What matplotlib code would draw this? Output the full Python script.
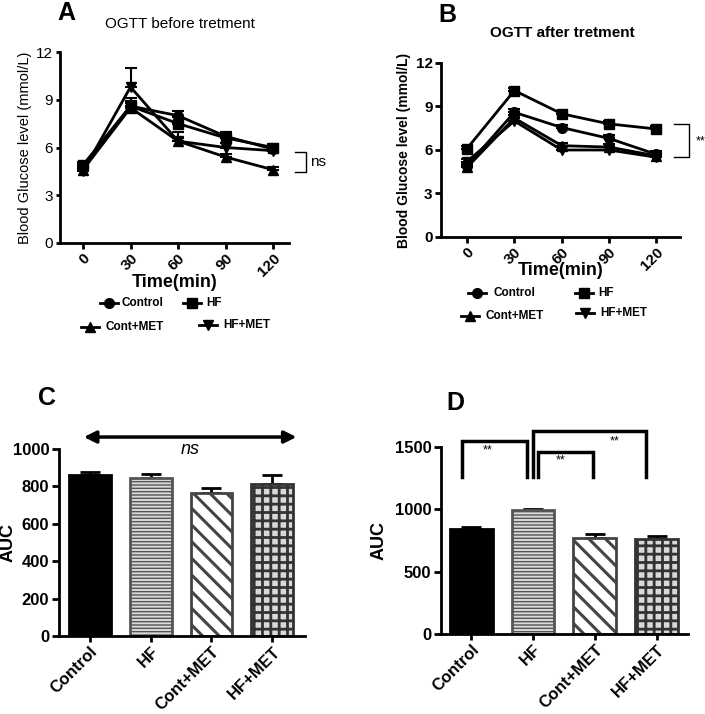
import matplotlib
matplotlib.use("Agg")
import matplotlib.pyplot as plt
from matplotlib.lines import Line2D
import numpy as np

plt.rcParams['font.family'] = ['Liberation Sans', 'DejaVu Sans']
plt.rcParams['hatch.linewidth'] = 1.0

# ---------------- data ----------------
time_min = [0, 30, 60, 90, 120]
groups = ["Control", "HF", "Cont+MET", "HF+MET"]

before_control = [4.8, 8.6, 8.0, 6.7, 5.9]
before_hf = [4.9, 8.6, 7.5, 6.6, 6.0]
before_contmet = [4.6, 8.5, 6.4, 5.4, 4.6]
before_hfmet = [4.5, 9.8, 6.4, 6.0, 5.8]
before_control_err = [0.2, 0.3, 0.3, 0.3, 0.2]
before_hf_err = [0.2, 0.5, 0.4, 0.4, 0.2]
before_contmet_err = [0.2, 0.3, 0.2, 0.2, 0.2]
before_hfmet_err = [0.2, 1.2, 0.6, 0.3, 0.2]

after_control = [4.9, 8.6, 7.55, 6.8, 5.7]
after_hf = [6.1, 10.1, 8.5, 7.8, 7.45]
after_contmet = [4.8, 8.2, 6.3, 6.2, 5.6]
after_hfmet = [5.2, 8.0, 6.0, 6.0, 5.5]
after_control_err = [0.2, 0.2, 0.2, 0.2, 0.2]
after_hf_err = [0.2, 0.2, 0.2, 0.2, 0.2]
after_contmet_err = [0.2, 0.2, 0.2, 0.2, 0.2]
after_hfmet_err = [0.2, 0.2, 0.2, 0.2, 0.2]

auc_before = [860, 843, 763, 815]
auc_before_err = [15, 22, 30, 47]
auc_after = [845, 995, 770, 765]
auc_after_err = [17, 8, 30, 25]

W, H = 705, 714
fig = plt.figure(figsize=(W / 100, H / 100), dpi=100)


def ax_at(l, t, r, b):
    return fig.add_axes([l / W, 1 - b / H, (r - l) / W, (b - t) / H])


def style(ax, ylen=4):
    for s in ("top", "right"):
        ax.spines[s].set_visible(False)
    for s in ("left", "bottom"):
        ax.spines[s].set_linewidth(2.0)
    ax.tick_params(axis="x", direction="out", width=2.0, length=4, pad=2)
    ax.tick_params(axis="y", direction="out", width=2.0, length=ylen, pad=2)


markers = ["o", "s", "^", "v"]


def line_panel(ax, series, errs, bold_y):
    for y, e, m in zip(series, errs, markers):
        ax.errorbar(time_min, y, yerr=[np.zeros(len(e)), e], color="black",
                    lw=2.0, marker=m, ms=7, capsize=4, elinewidth=1.5,
                    capthick=1.5, clip_on=False, zorder=3)
    ax.set_ylim(0, 12)
    ax.set_yticks([0, 3, 6, 9, 12])
    ax.set_yticklabels([str(v) for v in [0, 3, 6, 9, 12]], fontsize=11,
                       fontweight="bold" if bold_y else "normal")
    ax.set_xticks(time_min)
    ax.set_xticklabels([str(t) for t in time_min], rotation=45, ha="right",
                       rotation_mode="anchor", fontweight="bold", fontsize=11)
    ax.set_xlabel("Time(min)", fontsize=13, fontweight="bold")


# ---------- Panel A ----------
axA = ax_at(60, 52, 289, 243)
style(axA, ylen=3)
line_panel(axA, [before_control, before_hf, before_contmet, before_hfmet],
           [before_control_err, before_hf_err, before_contmet_err, before_hfmet_err],
           bold_y=False)
axA.set_xlim(-14.5, 130)
axA.set_ylabel("Blood Glucose level (mmol/L)", fontsize=10.5)
axA.yaxis.set_label_coords((32 - 60) / 229, 0.5)
axA.xaxis.set_label_coords(0.5, (243 - 274) / 191)
axA.plot([134, 141, 141, 134], [5.7, 5.7, 4.45, 4.45], color="black",
         lw=1.0, clip_on=False)
axA.text(143, 5.1, "ns", fontsize=11, va="center", ha="left")
fig.text(180 / W, 1 - 24 / H, "OGTT before tretment", fontsize=11,
         ha="center", va="center")
fig.text(66 / W, 1 - 13 / H, "A", fontsize=18, fontweight="bold",
         ha="center", va="center")

# ---------- Panel B ----------
axB = ax_at(441, 63, 680, 237)
style(axB, ylen=4)
line_panel(axB, [after_control, after_hf, after_contmet, after_hfmet],
           [after_control_err, after_hf_err, after_contmet_err, after_hfmet_err],
           bold_y=True)
axB.set_xlim(-16.5, 135)
axB.set_ylabel("Blood Glucose level (mmol/L)", fontsize=10, fontweight="bold")
axB.yaxis.set_label_coords((411 - 441) / 239, 0.5)
axB.xaxis.set_label_coords(0.5, (237 - 262) / 174)
axB.plot([131, 141, 141, 131], [7.8, 7.8, 5.5, 5.5], color="black",
         lw=1.0, clip_on=False)
axB.text(145, 6.6, "**", fontsize=9, va="center", ha="left")
fig.text(562 / W, 1 - 33 / H, "OGTT after tretment", fontsize=11,
         fontweight="bold", ha="center", va="center")
fig.text(447 / W, 1 - 15 / H, "B", fontsize=18, fontweight="bold",
         ha="center", va="center")


def legend_item(xm, y, marker, label, xt):
    fig.add_artist(Line2D([(xm - 9) / W, xm / W, (xm + 9) / W], [1 - y / H] * 3,
                          color="black", lw=2.0, marker=marker, ms=7,
                          markevery=[1]))
    fig.text(xt / W, 1 - y / H, label, fontsize=8.5, fontweight="bold",
             ha="left", va="center")


legend_item(109, 303, "o", groups[0], 121)
legend_item(192, 303, "s", groups[1], 206)
legend_item(90, 327, "^", groups[2], 106)
legend_item(208, 325, "v", groups[3], 223)

legend_item(477, 293, "o", groups[0], 493)
legend_item(584, 293, "s", groups[1], 598)
legend_item(470, 316, "^", groups[2], 486)
legend_item(585, 313, "v", groups[3], 600)

# ---------- bar styling ----------
bar_face = ["black", "#d9d9d9", "white", "#d9d9d9"]
bar_edge = ["black", "#555555", "#444444", "#333333"]
bar_hatch = [None, "-----", "\\\\", "++"]
bar_hatch_lw = [1.0, 1.0, 2.2, 2.0]


def bar_panel(ax, vals, errs):
    x = np.arange(len(groups))
    for i in range(len(groups)):
        with plt.rc_context({"hatch.linewidth": bar_hatch_lw[i]}):
            ax.bar(x[i], vals[i], width=0.69, color=bar_face[i],
                   edgecolor=bar_edge[i], linewidth=2.0, zorder=2,
                   hatch=bar_hatch[i])
    ax.errorbar(x, vals, yerr=[np.zeros(len(errs)), errs], fmt="none",
                ecolor="black", elinewidth=2.0, capsize=7, capthick=2.0,
                zorder=1)
    ax.set_xticks(x)
    ax.set_xticklabels(groups, rotation=45, ha="right", rotation_mode="anchor",
                       fontweight="bold", fontsize=12)
    ax.set_ylabel("AUC", fontsize=13, fontweight="bold")


# ---------- Panel C ----------
axC = ax_at(59, 449, 305, 636)
style(axC, ylen=5)
axC.set_ylim(0, 1000)
cticks = [0, 200, 400, 600, 800, 1000]
axC.set_yticks(cticks)
axC.set_yticklabels([str(v) for v in cticks], fontsize=12, fontweight="bold")
bar_panel(axC, auc_before, auc_before_err)
axC.set_xlim(-0.51, 3.54)
axC.yaxis.set_label_coords((17 - 59) / 246, 0.5)
axC.annotate("", xy=(3.4, 1064), xytext=(-0.1, 1064),
             arrowprops=dict(arrowstyle="<|-|>", color="black", lw=2.5,
                             mutation_scale=18, shrinkA=0, shrinkB=0),
             annotation_clip=False)
axC.text(1.65, 1000, "ns", fontsize=13, fontstyle="italic", ha="center",
         va="center")
fig.text(47 / W, 1 - 398 / H, "C", fontsize=18, fontweight="bold",
         ha="center", va="center")

# ---------- Panel D ----------
axD = ax_at(441, 447, 688, 634)
style(axD, ylen=5)
axD.set_ylim(0, 1500)
dticks = [0, 500, 1000, 1500]
axD.set_yticks(dticks)
axD.set_yticklabels([str(v) for v in dticks], fontsize=12, fontweight="bold")
bar_panel(axD, auc_after, auc_after_err)
axD.set_xlim(-0.49, 3.51)
axD.yaxis.set_label_coords((388 - 441) / 247, 0.5)


def bracket(x0, x1, top, base, tx, ty):
    axD.plot([x0, x0, x1, x1], [base, top, top, base], color="black", lw=2.5,
             clip_on=False, solid_joinstyle="miter")
    axD.text(tx, ty, "**", fontsize=9, ha="center", va="center")


bracket(-0.15, 0.90, 1548, 1259, 0.27, 1475)
bracket(1.00, 2.83, 1628, 1259, 2.32, 1545)
bracket(1.08, 1.97, 1460, 1259, 1.45, 1395)
fig.text(455 / W, 1 - 403 / H, "D", fontsize=18, fontweight="bold",
         ha="center", va="center")

fig.savefig("out.png", dpi=100)
